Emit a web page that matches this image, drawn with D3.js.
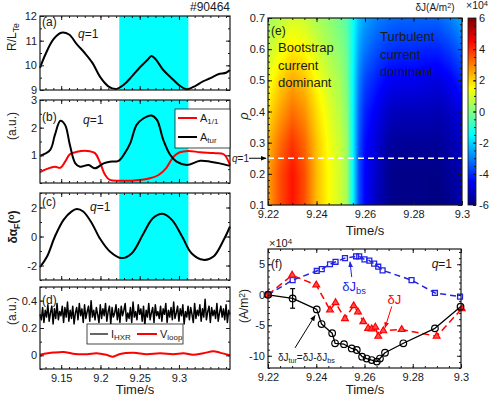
<!DOCTYPE html>
<html>
<head>
<meta charset="utf-8">
<script src="https://cdn.jsdelivr.net/npm/d3@7"></script>
<style>
  body { margin: 0; background: #fff; }
  svg { font-family: "Liberation Sans", Arial, Helvetica, sans-serif; }
</style>
</head>
<body>
<div id="chart"></div>
<script>
// ---------- left column data (shot #90464) ----------
const cyanSpan = [9.224, 9.312];

// (a) R/L_Te
const rltTime = [9.123, 9.13, 9.14, 9.15, 9.16, 9.17, 9.18, 9.19, 9.20, 9.21, 9.22, 9.23, 9.24, 9.25, 9.26, 9.265, 9.27, 9.28, 9.29, 9.30, 9.31, 9.32, 9.33, 9.34, 9.35, 9.36, 9.365];
const rltVal  = [9.9, 10.45, 11.05, 11.32, 11.25, 10.85, 10.5, 10.09, 9.51, 9.15, 9.04, 9.22, 9.55, 9.91, 10.23, 10.38, 10.26, 9.81, 9.5, 9.2, 9.03, 9.15, 9.34, 9.48, 9.64, 9.7, 9.81];

// (b) mode amplitudes
const aturTime = [9.123, 9.136, 9.142, 9.149, 9.155, 9.161, 9.168, 9.174, 9.185, 9.193, 9.204, 9.212, 9.223, 9.231, 9.238, 9.246, 9.255, 9.265, 9.272, 9.280, 9.289, 9.297, 9.310, 9.327, 9.340, 9.352, 9.365];
const aturVal  = [0.98, 1.2, 1.74, 2.25, 2.1, 1.38, 0.71, 0.59, 0.65, 0.53, 0.71, 0.77, 0.8, 1.08, 1.44, 2.1, 2.34, 2.44, 2.28, 1.56, 1.01, 0.77, 0.65, 0.8, 0.77, 0.71, 0.62];
const a11Time = [9.123, 9.132, 9.142, 9.149, 9.155, 9.161, 9.170, 9.183, 9.193, 9.199, 9.206, 9.212, 9.225, 9.250, 9.263, 9.274, 9.284, 9.293, 9.301, 9.312, 9.327, 9.344, 9.357, 9.365];
const a11Val  = [0.39, 0.51, 0.59, 0.55, 0.77, 1.04, 1.13, 1.16, 1.08, 0.77, 0.29, 0.11, 0.08, 0.11, 0.17, 0.29, 0.55, 0.95, 1.11, 1.16, 1.11, 1.08, 1.04, 0.65];

// (c) Faraday angle perturbation
const alphaTime = [9.123, 9.132, 9.142, 9.153, 9.163, 9.170, 9.178, 9.189, 9.199, 9.212, 9.227, 9.240, 9.255, 9.267, 9.279, 9.291, 9.304, 9.316, 9.331, 9.344, 9.357, 9.365];
const alphaVal  = [-2.11, -1.38, 0, 1.15, 1.72, 1.89, 1.72, 0.92, -0.11, -1.03, -1.49, -1.15, 0.23, 1.27, 1.57, 1.15, 0, -1.15, -1.61, -1.38, -0.23, 0.69];

// (d) hard x-ray (uniformly sampled) and loop voltage
const hxrStart = 9.123, hxrEnd = 9.365;
const hxrVal = [0.30,0.26,0.35,0.24,0.33,0.28,0.37,0.25,0.31,0.36,0.23,0.34,0.27,0.38,0.26,0.32,0.29,0.36,0.24,0.35,
  0.28,0.39,0.25,0.33,0.27,0.36,0.23,0.31,0.35,0.26,0.38,0.29,0.34,0.24,0.37,0.27,0.32,0.36,0.25,0.40,
  0.28,0.33,0.26,0.35,0.30,0.24,0.37,0.27,0.34,0.29,0.38,0.25,0.32,0.36,0.23,0.35,0.28,0.31,0.37,0.26,
  0.34,0.24,0.36,0.29,0.33,0.38,0.25,0.31,0.27,0.35,0.24,0.39,0.28,0.32,0.26,0.37,0.30,0.34,0.25,0.36,
  0.22,0.33,0.28,0.38,0.26,0.31,0.35,0.24,0.37,0.29,0.32,0.27,0.36,0.25,0.34,0.30,0.38,0.24,0.33,0.28,
  0.35,0.26,0.39,0.27,0.31,0.36,0.25,0.34,0.29,0.37,0.23,0.32,0.28,0.36,0.26,0.35,0.30,0.24,0.38,0.27,
  0.33,0.29,0.37,0.25,0.34,0.28,0.41,0.26,0.32,0.36,0.24,0.35,0.29,0.33,0.27,0.38,0.25,0.31,0.36,0.28,
  0.34,0.26,0.37,0.24,0.33,0.30];
const vloopTime = [9.123, 9.140, 9.153, 9.165, 9.183, 9.195, 9.208, 9.216, 9.225, 9.242, 9.259, 9.276, 9.293, 9.306, 9.318, 9.331, 9.344, 9.352, 9.365];
const vloopVal  = [0.005, 0.02, 0.025, 0.012, 0.008, 0.015, 0.003, -0.01, 0.01, 0.018, 0.008, 0.015, 0.008, 0.015, 0.004, 0.015, 0.03, 0.02, 0.0];

// ---------- (e) current perturbation map, x10^4 A/m^2 ----------
const mapTime = [9.22, 9.225, 9.23, 9.235, 9.24, 9.245, 9.25, 9.2525, 9.255, 9.2575, 9.26, 9.265, 9.27, 9.275, 9.28, 9.285, 9.29, 9.295, 9.30];
const mapRho  = [0.1, 0.2, 0.3, 0.4, 0.5, 0.6, 0.7];
const rho01 = [2.6, 3.6, 4.3, 3.6, 2.3, 1.5, 0.9, 0.4, -1.5, -3.6, -4.5, -5.3, -5.8, -5.9, -5.9, -5.9, -6.0, -5.8, -5.4];
const rho02 = [2.6, 3.6, 4.3, 3.6, 2.3, 1.5, 0.9, 0.4, -1.5, -3.6, -4.5, -5.2, -5.8, -5.9, -5.9, -5.9, -5.9, -5.7, -5.4];
const rho03 = [2.3, 3.2, 3.9, 3.3, 2.2, 1.4, 0.8, 0.3, -1.5, -3.5, -4.4, -5.0, -5.6, -5.7, -5.7, -5.7, -5.7, -5.5, -5.1];
const rho04 = [1.8, 2.6, 3.2, 2.8, 1.9, 1.2, 0.6, 0.1, -1.5, -3.3, -4.1, -4.7, -5.2, -5.3, -5.3, -5.3, -5.4, -5.2, -4.8];
const rho05 = [1.3, 2.0, 2.5, 2.2, 1.5, 0.9, 0.4, -0.1, -1.5, -3.0, -3.7, -4.2, -4.6, -4.7, -4.7, -4.8, -4.9, -4.6, -4.1];
const rho06 = [0.8, 1.3, 1.7, 1.5, 1.0, 0.5, 0.1, -0.3, -1.4, -2.6, -3.1, -3.6, -3.9, -4.0, -4.0, -4.1, -4.1, -3.8, -3.3];
const rho07 = [0.3, 0.7, 1.0, 0.9, 0.5, 0.2, -0.2, -0.5, -1.3, -2.2, -2.6, -3.0, -3.2, -3.3, -3.3, -3.3, -3.3, -3.0, -2.5];
const mapVal = [rho01, rho02, rho03, rho04, rho05, rho06, rho07];
const qOneRho = 0.25;

// ---------- (f) current evolution at q=1, x10^4 A/m^2 ----------
const jbsTime = [9.22, 9.2302, 9.2402, 9.2423, 9.2457, 9.248, 9.2519, 9.2565, 9.2578, 9.26, 9.262, 9.264, 9.2657, 9.2675, 9.2795, 9.2892, 9.2996];
const jbsVal  = [0, 2.4, 3.9, 4.2, 5.0, 5.4, 6.0, 6.3, 6.3, 5.8, 5.6, 5.1, 4.6, 4.0, 2.4, 0.3, -0.3];
const jTime = [9.22, 9.23, 9.24, 9.2457, 9.248, 9.2519, 9.2555, 9.2573, 9.2595, 9.2615, 9.263, 9.2645, 9.2657, 9.2678, 9.2754, 9.2899, 9.3003];
const jVal  = [0, 3.2, 1.6, -2.5, -1.3, -3.9, -1.8, -2.8, -4.4, -5.5, -5.6, -5.3, -6.8, -5.9, -5.7, -6.8, -2.3];
const jturTime = [9.22, 9.2302, 9.2402, 9.2422, 9.2466, 9.2478, 9.2515, 9.2547, 9.2568, 9.259, 9.2609, 9.263, 9.2651, 9.2664, 9.2685, 9.2761, 9.2892, 9.2998];
const jturVal  = [0, -0.6, -2.4, -4.8, -6.3, -7.95, -8.1, -8.8, -9.05, -10.15, -10.45, -10.7, -10.95, -10.45, -9.5, -7.95, -5.5, -1.95];
const jturErr  = [0, 1.6, 0, 0, 0, 0, 0, 0, 0, 0, 0, 0, 0, 0, 0, 0, 0, 0];

// ---------- ticks ----------
const leftTimeTicks = [9.15, 9.2, 9.25, 9.3];
const rightTimeTicks = [9.22, 9.24, 9.26, 9.28, 9.3];
const rhoTicks = [0.1, 0.2, 0.3, 0.4, 0.5, 0.6, 0.7];
const cbarTicks = [-6, -4, -2, 0, 2, 4, 6];
const fTicks = [-10, -5, 0, 5];

// ======================================================
const svg = d3.select("#chart").append("svg").attr("width", 500).attr("height", 398);
const INK = "#1a1a1a";
const fmt2 = d3.format(".2~f");

const defs = svg.append("defs");
[["ak", "#000"], ["ab", "#2323e6"], ["ar", "#f00"]].forEach(([id, c]) => {
  defs.append("marker").attr("id", id).attr("viewBox", "0 0 10 10")
    .attr("refX", 9).attr("refY", 5).attr("markerWidth", 6).attr("markerHeight", 6)
    .attr("orient", "auto")
    .append("path").attr("d", "M0,1L10,5L0,9z").attr("fill", c);
});

// frame with inward major/minor ticks on all four sides
function drawAxes(x, y, o) {
  const [l, r] = x.range(), [b, t] = y.range();
  const g = svg.append("g");
  [[d3.axisBottom, b, true], [d3.axisTop, t, false]].forEach(([ax, pos, lab]) => {
    g.append("g").attr("transform", `translate(0,${pos})`)
      .call(ax(x).tickValues(o.xMinor).tickSize(-2).tickFormat(""));
    g.append("g").attr("transform", `translate(0,${pos})`)
      .call(ax(x).tickValues(o.xMajor).tickSize(-4).tickPadding(5)
        .tickFormat(lab && o.xFmt ? o.xFmt : ""));
  });
  [[d3.axisLeft, l, true], [d3.axisRight, r, false]].forEach(([ax, pos, lab]) => {
    g.append("g").attr("transform", `translate(${pos},0)`)
      .call(ax(y).tickValues(o.yMinor).tickSize(-2).tickFormat(""));
    g.append("g").attr("transform", `translate(${pos},0)`)
      .call(ax(y).tickValues(o.yMajor).tickSize(-4).tickPadding(3)
        .tickFormat(lab && o.yFmt ? o.yFmt : ""));
  });
  g.selectAll(".domain").remove();
  g.selectAll("line").attr("stroke", INK);
  g.selectAll("text").attr("font-size", 11).attr("fill", INK).attr("font-family", null);
  g.append("rect").attr("x", l).attr("y", t).attr("width", r - l).attr("height", b - t)
    .attr("fill", "none").attr("stroke", INK).attr("stroke-width", 1.2);
  return g;
}

function text(x, y, s, o = {}) {
  return svg.append("text").attr("x", x).attr("y", y)
    .attr("font-size", o.size || 12).attr("fill", o.color || INK)
    .attr("text-anchor", o.anchor || "start")
    .attr("font-style", o.italic ? "italic" : null)
    .attr("font-weight", o.bold ? "bold" : null)
    .text(s);
}

// text built from [string, kind] parts; kind: "i" italic, "sub", "sup"
function rich(x, y, parts, o = {}) {
  const t = svg.append("text").attr("x", x).attr("y", y)
    .attr("font-size", o.size || 12).attr("fill", o.color || INK)
    .attr("text-anchor", o.anchor || "start")
    .attr("font-weight", o.bold ? "bold" : null);
  if (o.rotate) t.attr("transform", `rotate(-90,${x},${y})`);
  parts.forEach(([s, k]) => {
    const sp = t.append("tspan").text(s);
    if (k === "i") sp.attr("font-style", "italic");
    if (k === "sub") sp.attr("font-size", "0.72em").attr("baseline-shift", "-28%");
    if (k === "sup") sp.attr("font-size", "0.72em").attr("baseline-shift", "38%");
  });
  return t;
}

function arrow(x1, y1, x2, y2, color, id) {
  svg.append("line").attr("x1", x1).attr("y1", y1).attr("x2", x2).attr("y2", y2)
    .attr("stroke", color).attr("stroke-width", 1).attr("marker-end", `url(#${id})`);
}

// ---------------- left column ----------------
const xL = d3.scaleLinear().domain([9.123, 9.365]).range([40, 230]);
const leftMinor = d3.range(9.13, 9.365, 0.01);

const panels = [
  { y: d3.scaleLinear().domain([9, 12]).range([90, 16]), major: [9, 10, 11, 12], minor: d3.range(9, 12.01, 0.5), cyan: true },
  { y: d3.scaleLinear().domain([0, 3]).range([183, 100]), major: [1, 2, 3], minor: d3.range(0, 3.01, 0.5), cyan: true },
  { y: d3.scaleLinear().domain([-3, 3]).range([280, 193]), major: [-2, 0, 2], minor: d3.range(-3, 3.01, 1), cyan: true },
  { y: d3.scaleLinear().domain([-0.1, 0.5]).range([369, 287]), major: [0, 0.2, 0.4], minor: d3.range(-0.1, 0.51, 0.1), cyan: false, xlab: true }
];

panels.forEach(p => {
  const [b, t] = p.y.range();
  if (p.cyan) {
    svg.append("rect").attr("x", xL(cyanSpan[0])).attr("y", t)
      .attr("width", xL(cyanSpan[1]) - xL(cyanSpan[0])).attr("height", b - t)
      .attr("fill", "#00ffff");
  }
});

function series(x, y, ts, vs, color, w, curve) {
  const line = d3.line().x((d, i) => x(ts[i])).y(d => y(d)).curve(curve || d3.curveMonotoneX);
  return svg.append("path").datum(vs).attr("d", line).attr("fill", "none")
    .attr("stroke", color).attr("stroke-width", w).attr("stroke-linejoin", "round");
}

const [pa, pb, pc, pd] = panels;
series(xL, pa.y, rltTime, rltVal, "#000", 2, d3.curveCatmullRom);
series(xL, pb.y, a11Time, a11Val, "#f00", 2, d3.curveCatmullRom);
series(xL, pb.y, aturTime, aturVal, "#000", 2, d3.curveCatmullRom);
series(xL, pc.y, alphaTime, alphaVal, "#000", 2, d3.curveCatmullRom);
const hxrT = d3.scaleLinear().domain([0, hxrVal.length - 1]).range([hxrStart, hxrEnd]);
series(xL, pd.y, hxrVal.map((d, i) => hxrT(i)), hxrVal, "#000", 1.5, d3.curveLinear);
series(xL, pd.y, vloopTime, vloopVal, "#f00", 2, d3.curveCatmullRom);

panels.forEach(p => {
  drawAxes(xL, p.y, {
    xMajor: leftTimeTicks, xMinor: leftMinor, xFmt: p.xlab ? fmt2 : null,
    yMajor: p.major, yMinor: p.minor, yFmt: d => String(+d.toFixed(2))
  });
});

// panel labels
text(230, 11, "#90464", { anchor: "end" });
text(42, 26, "(a)"); rich(78, 38, [["q", "i"], ["=1"]]);
text(42, 121, "(b)"); rich(83, 124, [["q", "i"], ["=1"]]);
text(42, 206, "(c)"); rich(90, 211, [["q", "i"], ["=1"]]);
text(42, 304, "(d)");
rich(16, 37, [["R/L"], ["Te", "sub"]], { rotate: true, anchor: "middle" });
rich(16, 126, [["(a.u.)"]], { rotate: true, anchor: "middle" });
rich(17, 227, [["δα"], ["F", "sub"], ["("], ["o", "sup"], [")"]], { rotate: true, anchor: "middle", bold: true });
rich(16, 311, [["(a.u.)"]], { rotate: true, anchor: "middle" });
text(135, 394, "Time/s", { size: 13, anchor: "middle" });

// legend (b)
svg.append("rect").attr("x", 175).attr("y", 109).attr("width", 55).attr("height", 39)
  .attr("fill", "#fff").attr("stroke", INK).attr("stroke-width", 0.8);
svg.append("line").attr("x1", 178).attr("x2", 197).attr("y1", 118).attr("y2", 118).attr("stroke", "#f00").attr("stroke-width", 2);
svg.append("line").attr("x1", 178).attr("x2", 197).attr("y1", 137).attr("y2", 137).attr("stroke", "#000").attr("stroke-width", 2);
rich(200, 122, [["A"], ["1/1", "sub"]], { size: 11 });
rich(200, 141, [["A"], ["tur", "sub"]], { size: 11 });

// legend (d)
svg.append("rect").attr("x", 87).attr("y", 324).attr("width", 96).attr("height", 20)
  .attr("fill", "#fff").attr("stroke", INK).attr("stroke-width", 0.8);
svg.append("line").attr("x1", 90).attr("x2", 108).attr("y1", 334).attr("y2", 334).attr("stroke", "#000").attr("stroke-width", 1.2);
svg.append("line").attr("x1", 137).attr("x2", 157).attr("y1", 334).attr("y2", 334).attr("stroke", "#f00").attr("stroke-width", 2);
rich(111, 338, [["I"], ["HXR", "sub"]], { size: 11 });
rich(160, 338, [["V"], ["loop", "sub"]], { size: 11 });

// ---------------- (e) map ----------------
const xE = d3.scaleLinear().domain([9.22, 9.30]).range([268, 462]);
const yE = d3.scaleLinear().domain([0.1, 0.7]).range([205, 18]);
const jet = d3.scaleLinear()
  .domain([-6, -4.5, -1.5, 1.5, 4.5, 6])
  .range(["#00007f", "#0000ff", "#00ffff", "#ffff00", "#ff0000", "#7f0000"])
  .clamp(true);

function sampleMap(t, r) {
  const i = Math.max(0, Math.min(mapTime.length - 2, d3.bisectRight(mapTime, t) - 1));
  const j = Math.max(0, Math.min(mapRho.length - 2, d3.bisectRight(mapRho, r) - 1));
  const u = Math.max(0, Math.min(1, (t - mapTime[i]) / (mapTime[i + 1] - mapTime[i])));
  const v = Math.max(0, Math.min(1, (r - mapRho[j]) / (mapRho[j + 1] - mapRho[j])));
  const z0 = mapVal[j][i] * (1 - u) + mapVal[j][i + 1] * u;
  const z1 = mapVal[j + 1][i] * (1 - u) + mapVal[j + 1][i + 1] * u;
  return z0 * (1 - v) + z1 * v;
}

(function drawMap() {
  const [x0, x1] = xE.range(), [y1, y0] = yE.range();
  const w = Math.round(x1 - x0), h = Math.round(y1 - y0);
  const cv = document.createElement("canvas");
  cv.width = w; cv.height = h;
  const ctx = cv.getContext("2d");
  const img = ctx.createImageData(w, h);
  for (let py = 0; py < h; py++) {
    const r = yE.invert(y0 + py + 0.5);
    for (let px = 0; px < w; px++) {
      const c = d3.rgb(jet(sampleMap(xE.invert(x0 + px + 0.5), r)));
      const k = (py * w + px) * 4;
      img.data[k] = c.r; img.data[k + 1] = c.g; img.data[k + 2] = c.b; img.data[k + 3] = 255;
    }
  }
  ctx.putImageData(img, 0, 0);
  svg.append("image").attr("x", x0).attr("y", y0).attr("width", w).attr("height", h)
    .attr("preserveAspectRatio", "none").attr("href", cv.toDataURL());
})();

svg.append("line").attr("x1", xE.range()[0]).attr("x2", xE.range()[1])
  .attr("y1", yE(qOneRho)).attr("y2", yE(qOneRho))
  .attr("stroke", "#fff").attr("stroke-width", 1.5).attr("stroke-dasharray", "6,4");

drawAxes(xE, yE, {
  xMajor: rightTimeTicks, xMinor: d3.range(9.22, 9.3001, 0.005), xFmt: fmt2,
  yMajor: rhoTicks, yMinor: d3.range(0.1, 0.7001, 0.02), yFmt: d3.format(".1f")
});

text(271, 35, "(e)");
["Bootstrap", "current", "dominant"].forEach((s, i) => text(278, 52 + i * 17.5, s, { size: 13 }));
["Turbulent", "current", "dominant"].forEach((s, i) => text(380, 41 + i * 17.5, s, { size: 13 }));
rich(248, 116, [["ρ", "i"]], { size: 13, rotate: true, anchor: "middle" });
rich(249, yE(qOneRho) + 3.5, [["q", "i"], ["=1"]], { size: 10, anchor: "end" });
arrow(249, yE(qOneRho), 266, yE(qOneRho), "#000", "ak");
rich(435, 11, [["δJ(A/m"], ["2", "sup"], [")"]], { size: 10, anchor: "middle" });

// colour bar
const yC = d3.scaleLinear().domain([-6, 6]).range([205, 18]);
const grad = defs.append("linearGradient").attr("id", "cbar")
  .attr("x1", 0).attr("x2", 0).attr("y1", 1).attr("y2", 0);
jet.domain().forEach(d => grad.append("stop")
  .attr("offset", (d + 6) / 12).attr("stop-color", jet(d)));
svg.append("rect").attr("x", 468).attr("y", 18).attr("width", 8).attr("height", 187)
  .attr("fill", "url(#cbar)");
const gC = svg.append("g").attr("transform", "translate(476,0)");
gC.call(d3.axisLeft(yC).tickValues(d3.range(-6, 6.01, 0.5)).tickSize(2).tickFormat(""));
gC.call(g => g.append("g").call(d3.axisRight(yC).tickValues(cbarTicks).tickSize(-3).tickPadding(3).tickFormat(String)));
gC.selectAll(".domain").remove();
gC.selectAll("line").attr("stroke", INK);
gC.selectAll("text").attr("font-size", 11).attr("fill", INK).attr("font-family", null);
svg.append("rect").attr("x", 468).attr("y", 18).attr("width", 8).attr("height", 187)
  .attr("fill", "none").attr("stroke", INK).attr("stroke-width", 0.8);
rich(466, 9, [["×10"], ["4", "sup"]], { size: 10.5 });

text(365, 235, "Time/s", { size: 13, anchor: "middle" });

// ---------------- (f) ----------------
const xF = d3.scaleLinear().domain([9.22, 9.30]).range([268, 461]);
const yF = d3.scaleLinear().domain([-12, 7.5]).range([368, 249]);

function dashed(ts, vs, color, dash, w) {
  series(xF, yF, ts, vs, color, w, d3.curveLinear).attr("stroke-dasharray", dash);
}
dashed(jbsTime, jbsVal, "#2323e6", "6,4", 1.5);
dashed(jTime, jVal, "#f00", "7,4", 1.5);
series(xF, yF, jturTime, jturVal, "#000", 1.3, d3.curveLinear);

svg.append("g").selectAll("path").data(jbsVal).join("path")
  .attr("transform", (d, i) => `translate(${xF(jbsTime[i])},${yF(d)})`)
  .attr("d", d3.symbol(d3.symbolSquare, 24)).attr("fill", "none")
  .attr("stroke", "#2323e6").attr("stroke-width", 1.3);
svg.append("g").selectAll("path").data(jVal).join("path")
  .attr("transform", (d, i) => `translate(${xF(jTime[i])},${yF(d)})`)
  .attr("d", d3.symbol(d3.symbolTriangle, 20)).attr("fill", "#ff5050")
  .attr("stroke", "#f00").attr("stroke-width", 1.2);

const eb = svg.append("g").attr("stroke", "#000").attr("stroke-width", 1.2);
jturErr.forEach((e, i) => {
  if (!e) return;
  const cx = xF(jturTime[i]);
  eb.append("line").attr("x1", cx).attr("x2", cx).attr("y1", yF(jturVal[i] + e)).attr("y2", yF(jturVal[i] - e));
  [1, -1].forEach(s => eb.append("line").attr("x1", cx - 2.5).attr("x2", cx + 2.5)
    .attr("y1", yF(jturVal[i] + s * e)).attr("y2", yF(jturVal[i] + s * e)));
});
svg.append("g").selectAll("circle").data(jturVal).join("circle")
  .attr("cx", (d, i) => xF(jturTime[i])).attr("cy", d => yF(d)).attr("r", 3.3)
  .attr("fill", "none").attr("stroke", "#000").attr("stroke-width", 1.2);

drawAxes(xF, yF, {
  xMajor: rightTimeTicks, xMinor: d3.range(9.22, 9.3001, 0.005), xFmt: fmt2,
  yMajor: fTicks, yMinor: d3.range(-12, 7.01, 1), yFmt: String
});

rich(269, 247, [["×10"], ["4", "sup"]], { size: 11 });
text(271, 268, "(f)");
rich(452, 268, [["q", "i"], ["=1"]], { anchor: "end" });
rich(248, 306, [["(A/m"], ["2", "sup"], [")"]], { size: 12, rotate: true, anchor: "middle" });

rich(xF(9.2508), yF(0.6), [["δJ"], ["bs", "sub"]], { size: 13, color: "#2323e6" });
arrow(xF(9.2547), yF(2.9), xF(9.2540), yF(5.4), "#2323e6", "ab");
rich(xF(9.2695), yF(-1.5), [["δJ"]], { size: 13, color: "#f00" });
arrow(xF(9.2713), yF(-1.9), xF(9.2685), yF(-5.4), "#f00", "ar");
rich(xF(9.2241), yF(-10.9), [["δJ"], ["tur", "sub"], ["=δJ-δJ"], ["bs", "sub"]], { size: 10 });
arrow(xF(9.2312), yF(-8.7), xF(9.2395), yF(-3.4), "#000", "ak");

text(365, 394, "Time/s", { size: 13, anchor: "middle" });
</script>
</body>
</html>
